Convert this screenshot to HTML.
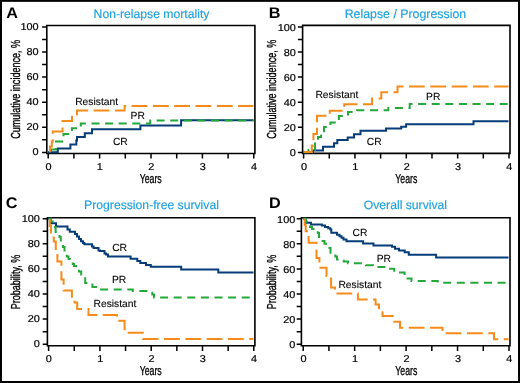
<!DOCTYPE html><html><head><meta charset="utf-8"><style>html,body{margin:0;padding:0;background:#fff}body{width:520px;height:383px;overflow:hidden;position:relative}svg{position:absolute;left:0;top:0;filter:blur(0.3px)}</style></head><body>
<svg width="520" height="383" viewBox="0 0 520 383" font-family="&quot;Liberation Sans&quot;, sans-serif" style="text-rendering:geometricPrecision">
<rect x="0" y="0" width="520" height="383" fill="#fff"/>
<rect x="1" y="0.85" width="518" height="381.15" fill="none" stroke="#000" stroke-width="2"/>
<path d="M46.80,153.50 V25.50 H254.90 V153.50 Z" fill="none" stroke="#000" stroke-width="1.6"/>
<path d="M42.10,152.40H46.80M42.10,139.85H46.80M42.10,127.30H46.80M42.10,114.75H46.80M42.10,102.20H46.80M42.10,89.65H46.80M42.10,77.10H46.80M42.10,64.55H46.80M42.10,52.00H46.80M42.10,39.45H46.80M42.10,26.90H46.80M48.20,153.50V158.60M73.90,153.50V158.60M99.60,153.50V158.60M125.30,153.50V158.60M151.00,153.50V158.60M176.70,153.50V158.60M202.40,153.50V158.60M228.10,153.50V158.60M253.80,153.50V158.60" fill="none" stroke="#000" stroke-width="1.5"/>
<text transform="translate(38.60,155.40) scale(1.09,1)" font-size="10.0" text-anchor="end" stroke="#000" stroke-width="0.2">0</text>
<text transform="translate(38.60,130.30) scale(1.09,1)" font-size="10.0" text-anchor="end" stroke="#000" stroke-width="0.2">20</text>
<text transform="translate(38.60,105.20) scale(1.09,1)" font-size="10.0" text-anchor="end" stroke="#000" stroke-width="0.2">40</text>
<text transform="translate(38.60,80.10) scale(1.09,1)" font-size="10.0" text-anchor="end" stroke="#000" stroke-width="0.2">60</text>
<text transform="translate(38.60,55.00) scale(1.09,1)" font-size="10.0" text-anchor="end" stroke="#000" stroke-width="0.2">80</text>
<text transform="translate(38.60,29.90) scale(1.09,1)" font-size="10.0" text-anchor="end" stroke="#000" stroke-width="0.2">100</text>
<text transform="translate(48.50,169.80) scale(1.09,1)" font-size="10.0" text-anchor="middle" stroke="#000" stroke-width="0.2">0</text>
<text transform="translate(99.90,169.80) scale(1.09,1)" font-size="10.0" text-anchor="middle" stroke="#000" stroke-width="0.2">1</text>
<text transform="translate(151.30,169.80) scale(1.09,1)" font-size="10.0" text-anchor="middle" stroke="#000" stroke-width="0.2">2</text>
<text transform="translate(202.70,169.80) scale(1.09,1)" font-size="10.0" text-anchor="middle" stroke="#000" stroke-width="0.2">3</text>
<text transform="translate(254.10,169.80) scale(1.09,1)" font-size="10.0" text-anchor="middle" stroke="#000" stroke-width="0.2">4</text>
<text transform="translate(150.70,182.70) scale(0.675,1)" font-size="13" text-anchor="middle" stroke="#000" stroke-width="0.3">Years</text>
<text transform="translate(19.80,89.40) rotate(-90) scale(0.695,1)" font-size="13" text-anchor="middle" stroke="#000" stroke-width="0.35">Cumulative incidence, %</text>
<text transform="translate(6.20,18.20) scale(1.06,1)" font-size="15.3" font-weight="bold">A</text>
<text x="151.50" y="17.80" font-size="12.2" text-anchor="middle" fill="#1ca1de" stroke="#1ca1de" stroke-width="0.15">Non-relapse mortality</text>
<path d="M302.60,153.40 V25.40 H510.00 V153.40 Z" fill="none" stroke="#000" stroke-width="1.6"/>
<path d="M297.90,152.40H302.60M297.90,139.85H302.60M297.90,127.30H302.60M297.90,114.75H302.60M297.90,102.20H302.60M297.90,89.65H302.60M297.90,77.10H302.60M297.90,64.55H302.60M297.90,52.00H302.60M297.90,39.45H302.60M297.90,26.90H302.60M303.60,153.40V158.50M329.28,153.40V158.50M354.95,153.40V158.50M380.62,153.40V158.50M406.30,153.40V158.50M431.98,153.40V158.50M457.65,153.40V158.50M483.32,153.40V158.50M509.00,153.40V158.50" fill="none" stroke="#000" stroke-width="1.5"/>
<text transform="translate(295.90,156.20) scale(1.09,1)" font-size="10.0" text-anchor="end" stroke="#000" stroke-width="0.2">0</text>
<text transform="translate(295.90,131.10) scale(1.09,1)" font-size="10.0" text-anchor="end" stroke="#000" stroke-width="0.2">20</text>
<text transform="translate(295.90,106.00) scale(1.09,1)" font-size="10.0" text-anchor="end" stroke="#000" stroke-width="0.2">40</text>
<text transform="translate(295.90,80.90) scale(1.09,1)" font-size="10.0" text-anchor="end" stroke="#000" stroke-width="0.2">60</text>
<text transform="translate(295.90,55.80) scale(1.09,1)" font-size="10.0" text-anchor="end" stroke="#000" stroke-width="0.2">80</text>
<text transform="translate(295.90,30.70) scale(1.09,1)" font-size="10.0" text-anchor="end" stroke="#000" stroke-width="0.2">100</text>
<text transform="translate(304.00,169.60) scale(1.09,1)" font-size="10.0" text-anchor="middle" stroke="#000" stroke-width="0.2">0</text>
<text transform="translate(355.35,169.60) scale(1.09,1)" font-size="10.0" text-anchor="middle" stroke="#000" stroke-width="0.2">1</text>
<text transform="translate(406.70,169.60) scale(1.09,1)" font-size="10.0" text-anchor="middle" stroke="#000" stroke-width="0.2">2</text>
<text transform="translate(458.05,169.60) scale(1.09,1)" font-size="10.0" text-anchor="middle" stroke="#000" stroke-width="0.2">3</text>
<text transform="translate(509.40,169.60) scale(1.09,1)" font-size="10.0" text-anchor="middle" stroke="#000" stroke-width="0.2">4</text>
<text transform="translate(406.30,182.70) scale(0.675,1)" font-size="13" text-anchor="middle" stroke="#000" stroke-width="0.3">Years</text>
<text transform="translate(276.20,89.20) rotate(-90) scale(0.695,1)" font-size="13" text-anchor="middle" stroke="#000" stroke-width="0.35">Cumulative incidence, %</text>
<text transform="translate(268.70,18.20) scale(1.06,1)" font-size="15.3" font-weight="bold">B</text>
<text x="405.40" y="17.60" font-size="12.35" text-anchor="middle" fill="#1ca1de" stroke="#1ca1de" stroke-width="0.15">Relapse / Progression</text>
<path d="M47.40,345.80 V217.80 H254.90 V345.80 Z" fill="none" stroke="#000" stroke-width="1.6"/>
<path d="M42.70,344.20H47.40M42.70,331.65H47.40M42.70,319.10H47.40M42.70,306.55H47.40M42.70,294.00H47.40M42.70,281.45H47.40M42.70,268.90H47.40M42.70,256.35H47.40M42.70,243.80H47.40M42.70,231.25H47.40M42.70,218.70H47.40M48.60,345.80V350.90M74.25,345.80V350.90M99.90,345.80V350.90M125.55,345.80V350.90M151.20,345.80V350.90M176.85,345.80V350.90M202.50,345.80V350.90M228.15,345.80V350.90M253.80,345.80V350.90" fill="none" stroke="#000" stroke-width="1.5"/>
<text transform="translate(39.90,347.40) scale(1.09,1)" font-size="10.0" text-anchor="end" stroke="#000" stroke-width="0.2">0</text>
<text transform="translate(39.90,322.30) scale(1.09,1)" font-size="10.0" text-anchor="end" stroke="#000" stroke-width="0.2">20</text>
<text transform="translate(39.90,297.20) scale(1.09,1)" font-size="10.0" text-anchor="end" stroke="#000" stroke-width="0.2">40</text>
<text transform="translate(39.90,272.10) scale(1.09,1)" font-size="10.0" text-anchor="end" stroke="#000" stroke-width="0.2">60</text>
<text transform="translate(39.90,247.00) scale(1.09,1)" font-size="10.0" text-anchor="end" stroke="#000" stroke-width="0.2">80</text>
<text transform="translate(39.90,221.90) scale(1.09,1)" font-size="10.0" text-anchor="end" stroke="#000" stroke-width="0.2">100</text>
<text transform="translate(48.90,361.60) scale(1.09,1)" font-size="10.0" text-anchor="middle" stroke="#000" stroke-width="0.2">0</text>
<text transform="translate(100.20,361.60) scale(1.09,1)" font-size="10.0" text-anchor="middle" stroke="#000" stroke-width="0.2">1</text>
<text transform="translate(151.50,361.60) scale(1.09,1)" font-size="10.0" text-anchor="middle" stroke="#000" stroke-width="0.2">2</text>
<text transform="translate(202.80,361.60) scale(1.09,1)" font-size="10.0" text-anchor="middle" stroke="#000" stroke-width="0.2">3</text>
<text transform="translate(254.10,361.60) scale(1.09,1)" font-size="10.0" text-anchor="middle" stroke="#000" stroke-width="0.2">4</text>
<text transform="translate(150.70,374.70) scale(0.675,1)" font-size="13" text-anchor="middle" stroke="#000" stroke-width="0.3">Years</text>
<text transform="translate(19.60,282.00) rotate(-90) scale(0.695,1)" font-size="13" text-anchor="middle" stroke="#000" stroke-width="0.35">Probability, %</text>
<text transform="translate(5.70,208.30) scale(1.06,1)" font-size="15.3" font-weight="bold">C</text>
<text x="151.50" y="208.90" font-size="12.2" text-anchor="middle" fill="#1ca1de" stroke="#1ca1de" stroke-width="0.15">Progression-free survival</text>
<path d="M301.40,345.80 V217.80 H510.00 V345.80 Z" fill="none" stroke="#000" stroke-width="1.6"/>
<path d="M296.70,344.20H301.40M296.70,331.65H301.40M296.70,319.10H301.40M296.70,306.55H301.40M296.70,294.00H301.40M296.70,281.45H301.40M296.70,268.90H301.40M296.70,256.35H301.40M296.70,243.80H301.40M296.70,231.25H301.40M296.70,218.70H301.40M303.20,345.80V350.90M328.93,345.80V350.90M354.65,345.80V350.90M380.38,345.80V350.90M406.10,345.80V350.90M431.82,345.80V350.90M457.55,345.80V350.90M483.27,345.80V350.90M509.00,345.80V350.90" fill="none" stroke="#000" stroke-width="1.5"/>
<text transform="translate(295.30,348.40) scale(1.09,1)" font-size="10.0" text-anchor="end" stroke="#000" stroke-width="0.2">0</text>
<text transform="translate(295.30,323.30) scale(1.09,1)" font-size="10.0" text-anchor="end" stroke="#000" stroke-width="0.2">20</text>
<text transform="translate(295.30,298.20) scale(1.09,1)" font-size="10.0" text-anchor="end" stroke="#000" stroke-width="0.2">40</text>
<text transform="translate(295.30,273.10) scale(1.09,1)" font-size="10.0" text-anchor="end" stroke="#000" stroke-width="0.2">60</text>
<text transform="translate(295.30,248.00) scale(1.09,1)" font-size="10.0" text-anchor="end" stroke="#000" stroke-width="0.2">80</text>
<text transform="translate(295.30,222.90) scale(1.09,1)" font-size="10.0" text-anchor="end" stroke="#000" stroke-width="0.2">100</text>
<text transform="translate(303.60,361.60) scale(1.09,1)" font-size="10.0" text-anchor="middle" stroke="#000" stroke-width="0.2">0</text>
<text transform="translate(355.05,361.60) scale(1.09,1)" font-size="10.0" text-anchor="middle" stroke="#000" stroke-width="0.2">1</text>
<text transform="translate(406.50,361.60) scale(1.09,1)" font-size="10.0" text-anchor="middle" stroke="#000" stroke-width="0.2">2</text>
<text transform="translate(457.95,361.60) scale(1.09,1)" font-size="10.0" text-anchor="middle" stroke="#000" stroke-width="0.2">3</text>
<text transform="translate(509.40,361.60) scale(1.09,1)" font-size="10.0" text-anchor="middle" stroke="#000" stroke-width="0.2">4</text>
<text transform="translate(406.30,374.70) scale(0.675,1)" font-size="13" text-anchor="middle" stroke="#000" stroke-width="0.3">Years</text>
<text transform="translate(275.80,282.00) rotate(-90) scale(0.695,1)" font-size="13" text-anchor="middle" stroke="#000" stroke-width="0.35">Probability, %</text>
<text transform="translate(269.10,207.90) scale(1.06,1)" font-size="15.3" font-weight="bold">D</text>
<text x="405.40" y="209.00" font-size="12.2" text-anchor="middle" fill="#1ca1de" stroke="#1ca1de" stroke-width="0.15">Overall survival</text>
<path d="M48,152.2 H57.8 V148.4 H70.4 V144.5 H76.3 V140.6 H77 V137 H84.8 V133.2 H92 V129.2 H140.4 V125.6 H181.1 V120.3 H253.5" fill="none" stroke="#063d78" stroke-width="2"/>
<path d="M48,152.2 H51 V149.5 H56 V141.5 H63.5 V134 H71.9 V128.2 H80.8 V123.5 H150.2 V120.6 H253.5" fill="none" stroke="#25a83a" stroke-width="2" stroke-dasharray="8 5.6" stroke-dashoffset="9.4"/>
<path d="M48,152.2 H50 V146.5 H51.8 V141.5 H52.8 V131.5 H62.5 V121.1 H72 V115.3 H77 V110.6 H124.6 V106 H253.5" fill="none" stroke="#f68b1a" stroke-width="2" stroke-dasharray="15.8 5.5" stroke-dashoffset="19.3"/>
<text x="75.20" y="104.80" font-size="10.3" stroke="#000" stroke-width="0.1">Resistant</text>
<text x="130.60" y="119.30" font-size="10.3" stroke="#000" stroke-width="0.1">PR</text>
<text x="112.90" y="145.00" font-size="10.3" stroke="#000" stroke-width="0.1">CR</text>
<path d="M303.2,152.2 H313 V150.4 H323 V146.7 H334 V143.2 H337.3 V140 H347.7 V137.4 H354 V134.3 H360.5 V130.8 H386 V128.6 H401.2 V126.8 H406.1 V124.2 H473.5 V121.3 H508.5" fill="none" stroke="#063d78" stroke-width="2"/>
<path d="M303.2,152.2 H308.5 V150 H315 V141 H318 V137 H321 V133.5 H324 V127 H330.4 V122.4 H338.9 V115.9 H348 V112 H357 V110.2 H388.3 V107.9 H409.7 V103.9 H508.5" fill="none" stroke="#25a83a" stroke-width="2" stroke-dasharray="8 5.6" stroke-dashoffset="13.6"/>
<path d="M303.2,152 H311.8 V145.5 H313.4 V134 H317 V115.8 H329.8 V110.7 H344.2 V104.3 H372.1 V98.6 H381.3 V92.3 H397.5 V86.4 H508.5" fill="none" stroke="#f68b1a" stroke-width="2" stroke-dasharray="15.8 5.5" stroke-dashoffset="20.3"/>
<text x="315.40" y="98.30" font-size="10.3" stroke="#000" stroke-width="0.1">Resistant</text>
<text x="426.10" y="100.30" font-size="10.3" stroke="#000" stroke-width="0.1">PR</text>
<text x="366.80" y="145.20" font-size="10.3" stroke="#000" stroke-width="0.1">CR</text>
<path d="M48,218.7 H50.8 V223.2 H56 V226.6 H67.5 V229.5 H69.8 V231.8 H75 V234 H77 V236.5 H79 V239 H81 V241.2 H83 V243 H84.4 V244.2 H92 V246.5 H93.6 V248.1 H98.5 V250.5 H100 V251 H104.5 V253.5 H106 V254.5 H108 V256.6 H130.6 V258.8 H137.3 V260.9 H140.3 V263.1 H146 V264.9 H150.8 V266.8 H181.2 V269.4 H218.3 V272.4 H253.5" fill="none" stroke="#063d78" stroke-width="2"/>
<path d="M48,218.7 H51 V221.4 H54.8 V227 H55.6 V232 H59.5 V237 H60.8 V242 H63 V247 H64.5 V250.5 H66.8 V256.5 H68.5 V259 H70 V261 H72.8 V264 H74 V266 H76 V268 H79 V271.6 H81.2 V276.5 H85.2 V283 H92.4 V286.9 H99.5 V289.5 H132.8 V291 H152.3 V294.5 H154 V297.5 H253.5" fill="none" stroke="#25a83a" stroke-width="2" stroke-dasharray="8 5.6" stroke-dashoffset="13.1"/>
<path d="M48,218.7 H49.8 V226 H51 V237.4 H53.8 V241.5 H55.8 V251 H57.4 V261.5 H61.4 V279.4 H63.6 V290.4 H71.9 V300.4 H74.5 V302.4 H77.2 V309 H88.5 V315 H117 V320.8 H124.6 V332.8 H142.9 V339 H253.5" fill="none" stroke="#f68b1a" stroke-width="2" stroke-dasharray="15.8 5.5" stroke-dashoffset="19.3"/>
<text x="93.50" y="307.20" font-size="10.3" stroke="#000" stroke-width="0.1">Resistant</text>
<text x="112.00" y="283.20" font-size="10.3" stroke="#000" stroke-width="0.1">PR</text>
<text x="112.20" y="250.90" font-size="10.3" stroke="#000" stroke-width="0.1">CR</text>
<path d="M303.2,218.7 H305.7 V222.8 H311 V224.4 H321.9 V225.5 H325 V227 H328.2 V228.3 H330.3 V229.6 H331.3 V232.8 H337 V234.8 H339.5 V236.2 H341.5 V237.8 H343.5 V239.5 H346.5 V241.2 H363.1 V243.5 H373.5 V245.6 H392 V246.8 H395 V248.8 H399 V250.6 H404.7 V252.3 H408.8 V254.8 H436.1 V257.6 H508.5" fill="none" stroke="#063d78" stroke-width="2"/>
<path d="M303.2,218.7 H305.7 V221.8 H310 V227 H312 V229.1 H317.8 V233 H319 V236.9 H322.5 V241 H324.5 V243.7 H329.5 V248 H330.5 V254 H335.3 V256.5 H337 V259.4 H343.8 V261.5 H348 V263.3 H366 V265.3 H373 V266.9 H388 V268.8 H394.2 V272.5 H404.6 V278.6 H411.5 V281 H437.7 V282.7 H508.5" fill="none" stroke="#25a83a" stroke-width="2" stroke-dasharray="8 5.6" stroke-dashoffset="0.0"/>
<path d="M303.2,218.7 H304.7 V225 H305.7 V231.2 H308.6 V242.7 H316.5 V258 H319.4 V267.8 H326.5 V276 H331.1 V287.4 H335 V293.4 H357.9 V299.4 H375.6 V304.6 H379 V311 H382.5 V316.1 H392.8 V321.8 H400 V327.7 H442.5 V333.3 H494 V339.2 H508.5" fill="none" stroke="#f68b1a" stroke-width="2" stroke-dasharray="15.8 5.5" stroke-dashoffset="19.8"/>
<text x="338.40" y="287.70" font-size="10.3" stroke="#000" stroke-width="0.1">Resistant</text>
<text x="376.70" y="262.30" font-size="10.3" stroke="#000" stroke-width="0.1">PR</text>
<text x="352.50" y="236.40" font-size="10.3" stroke="#000" stroke-width="0.1">CR</text>
</svg></body></html>
